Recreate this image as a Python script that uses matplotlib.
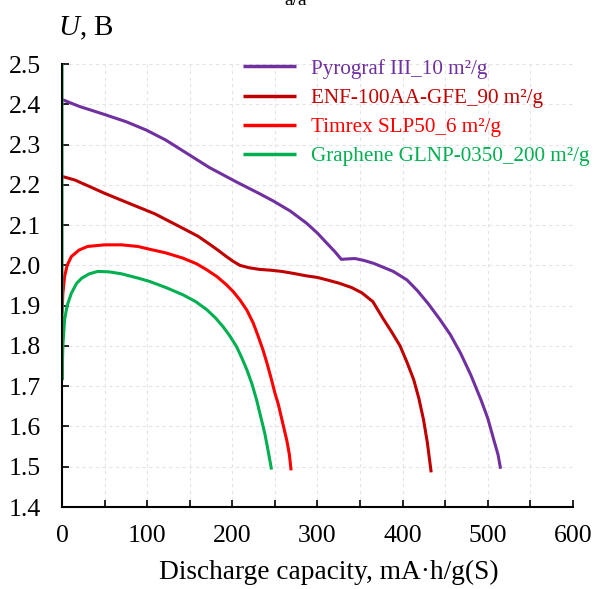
import matplotlib.pyplot as plt
import numpy as np

plt.rcParams['font.family'] = 'Liberation Serif'
plt.rcParams['mathtext.fontset'] = 'custom'
plt.rcParams['mathtext.it'] = 'Liberation Serif:italic'
plt.rcParams['mathtext.rm'] = 'Liberation Serif'

# Pyrograf III
x_pyro = [0, 20, 48, 75, 99, 122, 146, 173, 205, 232, 248, 268, 287, 300, 311, 320, 328,
          335, 344, 355, 366, 389, 405, 417, 430, 444, 456, 468, 480, 492, 500, 507, 512, 515]
y_pyro = [2.412, 2.395, 2.376, 2.357, 2.336, 2.311, 2.279, 2.243, 2.207, 2.178, 2.160, 2.135,
          2.105, 2.080, 2.055, 2.035, 2.015, 2.016, 2.017, 2.012, 2.005, 1.985, 1.964, 1.938,
          1.905, 1.865, 1.828, 1.782, 1.728, 1.666, 1.620, 1.567, 1.530, 1.495]

# ENF-100AA-GFE
x_enf = [0, 15, 30, 50, 80, 109, 142, 160, 173, 183, 193, 201, 209, 220, 232, 245, 258, 272,
         287, 300, 311, 325, 340, 352, 365, 377, 387, 397, 405, 413, 419, 424.5, 429, 433.5]
y_enf = [2.221, 2.212, 2.198, 2.179, 2.153, 2.128, 2.092, 2.072, 2.053, 2.038, 2.022, 2.010,
         2.000, 1.994, 1.990, 1.988, 1.985, 1.980, 1.974, 1.970, 1.964, 1.956, 1.945, 1.932,
         1.910, 1.868, 1.835, 1.800, 1.760, 1.716, 1.670, 1.617, 1.560, 1.486]

# Timrex SLP50
x_tim = [0, 1, 3, 6, 11, 20, 30, 50, 70, 89, 103, 122, 142, 158, 170, 182, 193, 201, 209,
         217, 224.5, 230, 236, 241, 246, 250, 254, 259, 264, 267, 269]
y_tim = [1.880, 1.930, 1.972, 2.000, 2.022, 2.038, 2.047, 2.051, 2.051, 2.047, 2.040, 2.031,
         2.018, 2.004, 1.989, 1.972, 1.952, 1.935, 1.914, 1.889, 1.857, 1.826, 1.790, 1.755,
         1.716, 1.683, 1.655, 1.610, 1.565, 1.530, 1.491]

# Graphene GLNP-0350
x_gra = [0, 0, 1, 3, 6, 11, 17, 23, 32, 42, 55, 70, 90, 103, 122, 142, 157, 170, 180, 189,
         197, 205, 211, 217, 223, 228.5, 233, 238, 242, 246]
y_gra = [2.5, 1.716, 1.800, 1.865, 1.900, 1.931, 1.955, 1.968, 1.979, 1.985, 1.984, 1.979,
         1.968, 1.960, 1.945, 1.927, 1.910, 1.890, 1.870, 1.848, 1.825, 1.798, 1.771, 1.741,
         1.706, 1.666, 1.627, 1.584, 1.540, 1.493]

series = [
    (x_pyro, y_pyro, '#7030A0', 'Pyrograf III_10 m²/g'),
    (x_enf, y_enf, '#C00000', 'ENF-100AA-GFE_90 m²/g'),
    (x_tim, y_tim, '#FF0000', 'Timrex SLP50_6 m²/g'),
    (x_gra, y_gra, '#00B050', 'Graphene GLNP-0350_200 m²/g'),
]

fig = plt.figure(figsize=(5.94, 5.89), dpi=100)
ax = fig.add_axes([0.1044, 0.1392, 0.8602, 0.7521])

for xs, ys, c, lab in series:
    ax.plot(xs, ys, color=c, linewidth=2.2, label=lab, solid_capstyle='butt',
            solid_joinstyle='round')

ax.set_xlim(0, 600)
ax.set_ylim(1.4, 2.5)
ax.set_xticks(np.arange(0, 601, 100))
ax.set_xticks(np.arange(50, 600, 100), minor=True)
ax.set_yticks(np.arange(1.4, 2.51, 0.1))
ax.set_yticklabels([f'{v:.1f}' for v in np.arange(1.4, 2.51, 0.1)])
ax.tick_params(axis='both', which='both', direction='in', length=5, width=1.2,
               labelsize=18.5, colors='black')
ax.tick_params(axis='x', pad=13)
ax.tick_params(axis='y', pad=15)
ax.grid(True, which='both', linestyle=(0, (3, 3)), color='#e4e4e4', linewidth=0.8)
for s in ['top', 'right']:
    ax.spines[s].set_visible(False)
for s in ['left', 'bottom']:
    ax.spines[s].set_linewidth(1.5)

# axis titles
fig.text(329 / 594, 1 - 572 / 589, 'Discharge capacity, mA·h/g(S)', fontsize=19.7,
         ha='center', va='center')
fig.text(0.097, 0.952, r'$\mathit{U}$, B', fontsize=21, ha='left', va='center')
fig.text(0.497, 1 - 5 / 589, 'a/a', fontsize=14, ha='center', va='baseline')

leg = ax.legend(loc='upper left', bbox_to_anchor=(0.355, 1.012), frameon=False,
                fontsize=15.2, handlelength=2.5, handletextpad=0.7, labelspacing=0.45,
                borderpad=0, borderaxespad=0)
for t, (_, _, c, _) in zip(leg.get_texts(), series):
    t.set_color(c)
for h in leg.get_lines():
    h.set_linewidth(2.5)

fig.savefig('out.png', dpi=100)
